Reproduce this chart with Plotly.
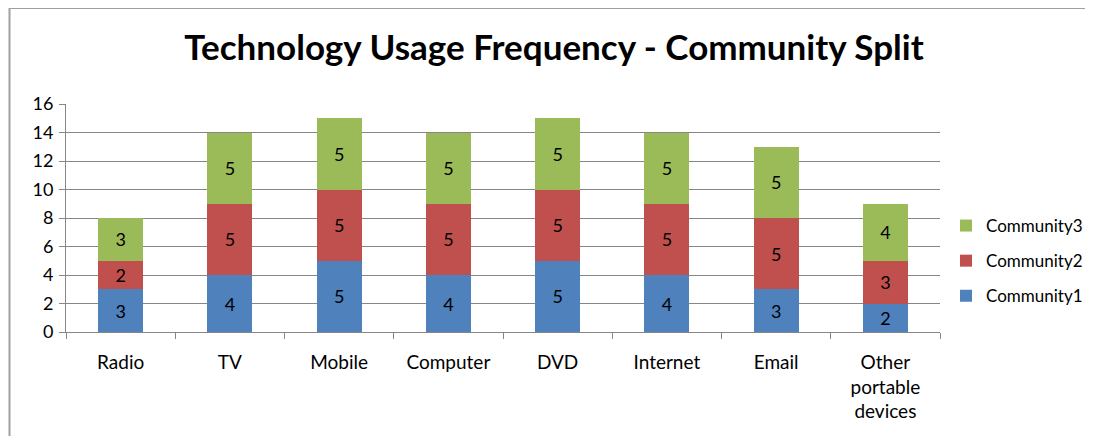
import plotly.graph_objects as go

categories = ["Radio", "TV", "Mobile", "Computer", "DVD", "Internet", "Email", "Other<br>portable<br>devices"]
community1 = [3, 4, 5, 4, 5, 4, 3, 2]
community2 = [2, 5, 5, 5, 5, 5, 5, 3]
community3 = [3, 5, 5, 5, 5, 5, 5, 4]
series_names = ["Community1", "Community2", "Community3"]
colors = ["#4F81BD", "#C0504D", "#9BBB59"]
y_ticks = [0, 2, 4, 6, 8, 10, 12, 14, 16]

FONT = "Lato"
OFF = 8  # page body margin
W, H = 1093 - 2 * OFF, 444 - 2 * OFF
# plot area in page pixels: x 66..940, y 104..332
L = 66 - OFF
T = 104 - OFF
R = W - (940 - OFF)
B = H - (332 - OFF)
pw, ph = W - L - R, H - T - B

def px(x):
    return (x - OFF - L) / pw

def py(y):
    return (H - B - (y - OFF)) / ph

fig = go.Figure()
for i, (name, vals, col) in enumerate(zip(series_names, [community1, community2, community3], colors)):
    fig.add_trace(go.Bar(
        x=categories, y=vals, name=name, legendgroup=name, legendrank=10 - i,
        marker=dict(color=col, line=dict(width=0)),
        text=vals, textposition="inside", insidetextanchor="middle",
        textfont=dict(color="black", size=18, family=FONT), constraintext="none",
    ))

fig.update_layout(
    width=W, height=H,
    barmode="stack", bargap=0.59,
    margin=dict(l=L, r=R, t=T, b=B, autoexpand=False),
    paper_bgcolor="white", plot_bgcolor="white",
    font=dict(family=FONT, size=18, color="black"),
    title=dict(text="<b>Technology Usage Frequency - Community Split</b>",
               x=(554 - OFF) / W, xanchor="center", y=1 - (48 - OFF) / H, yanchor="middle",
               font=dict(size=35, family=FONT, color="black")),
    legend=dict(x=px(946), y=py(208), xanchor="left", yanchor="top",
                traceorder="grouped", font=dict(size=17, family=FONT),
                itemwidth=30, tracegroupgap=10),
    xaxis=dict(showline=True, linecolor="#868686", linewidth=1,
               ticks="outside", tickson="boundaries", ticklen=6, tickcolor="#868686",
               showgrid=False, tickfont=dict(size=19, family=FONT), ticklabelstandoff=13),
    yaxis=dict(range=[0, 16], tickvals=y_ticks, showline=True, linecolor="#868686",
               linewidth=1, ticks="outside", ticklen=6, tickcolor="#868686",
               showgrid=True, gridcolor="#868686", gridwidth=1, zeroline=False,
               tickfont=dict(size=18, family=FONT), ticklabelstandoff=2),
    shapes=[dict(type="rect", xref="paper", yref="paper",
                 x0=px(9.5), x1=px(1110), y0=py(8), y1=py(470),
                 line=dict(color="#A0A0A0", width=2), layer="below")],
)

fig.write_html("out.html")
